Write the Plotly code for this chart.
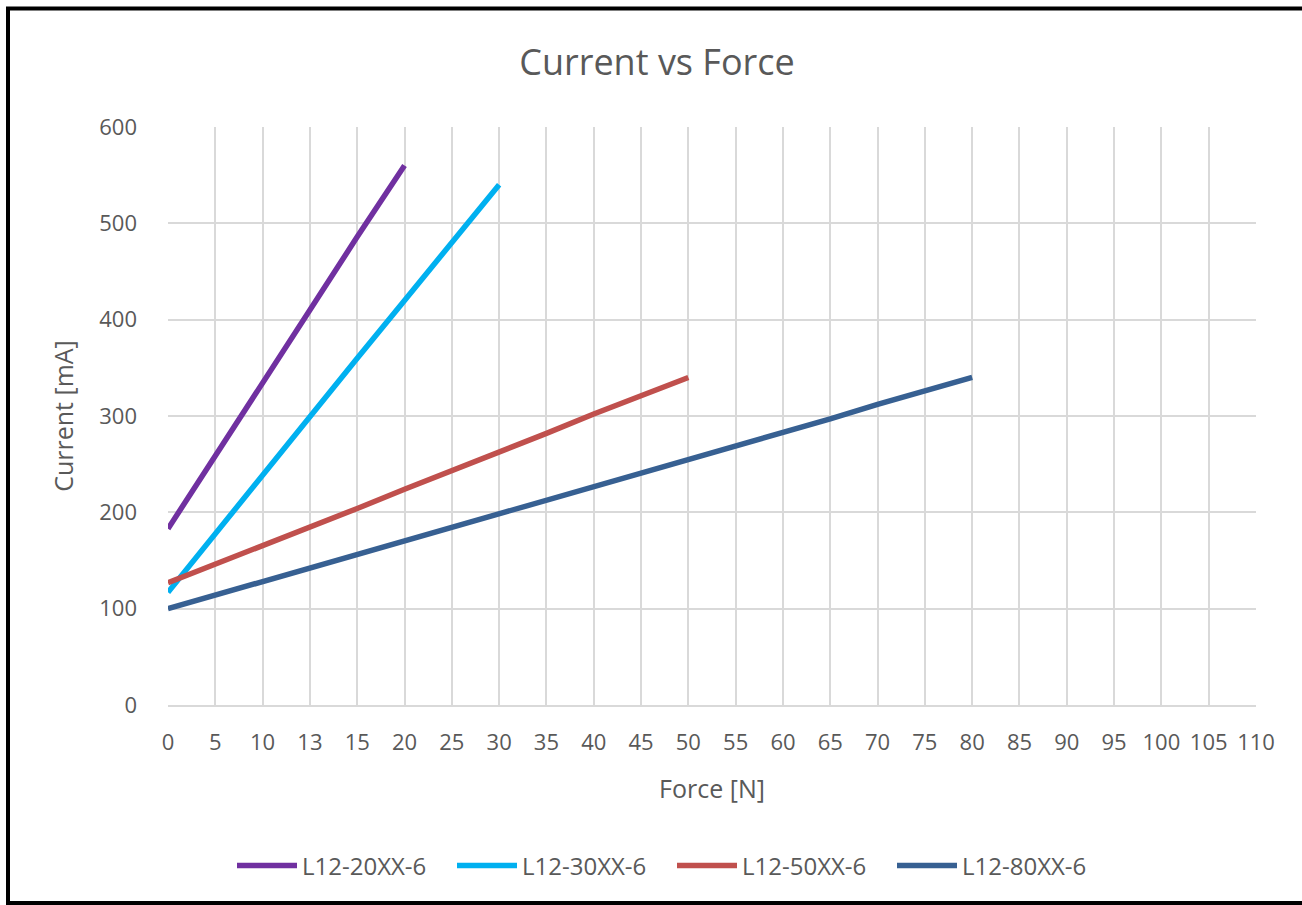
import plotly.graph_objects as go

force_labels = ["0", "5", "10", "13", "15", "20", "25", "30", "35", "40", "45", "50",
                "55", "60", "65", "70", "75", "80", "85", "90", "95", "100", "105", "110"]

series_names = ["L12-20XX-6", "L12-30XX-6", "L12-50XX-6", "L12-80XX-6"]
l12_20 = [183, 258, 334, 410, 486, 560]
l12_30 = [117, 178, 240, 300, 360, 420, 480, 540]
l12_50 = [127, 146, 166, 185, 204, 224, 243, 263, 282, 302, 321, 340]
l12_80 = [100, 114, 128, 142, 156, 170, 184, 199, 213, 227, 241, 255, 269, 283, 297, 312, 326, 340]
colors = ["#7030A0", "#00B0F0", "#C0504D", "#376092"]

fig = go.Figure()
for name, vals, col in zip(series_names, [l12_20, l12_30, l12_50, l12_80], colors):
    fig.add_trace(go.Scatter(
        x=force_labels[:len(vals)], y=vals, name=name, mode="lines",
        line=dict(color=col, width=5.5), hoverinfo="x+y+name"))

W, H = 1302, 905
L, R, T, B = 168, 1256, 127, 705
pw, ph = R - L, B - T

def px(x):
    return (x - L) / pw

def py(y):
    return (B - y) / ph

grid = "#D9D9D9"
txt = "#595959"
font = "Open Sans, Noto Sans, sans-serif"

fig.update_layout(
    width=W, height=H,
    margin=dict(l=L, r=W - R, t=T, b=H - B, autoexpand=False),
    paper_bgcolor="white", plot_bgcolor="white",
    font=dict(family=font, color=txt, size=22),
    title=dict(text="Current vs Force", x=657 / W, xanchor="center",
               y=1 - 62 / H, yanchor="middle",
               font=dict(size=36, color=txt, family=font)),
    xaxis=dict(type="category", categoryorder="array", categoryarray=force_labels,
               range=[0, len(force_labels) - 1],
               showgrid=True, gridcolor=grid, gridwidth=1.5,
               showline=True, linecolor=grid, linewidth=1.5,
               ticks="", tickfont=dict(size=22, color=txt),
               ticklabelstandoff=17,
               title=dict(text="Force [N]", font=dict(size=25, color=txt), standoff=25),
               fixedrange=True),
    yaxis=dict(range=[0, 600], dtick=100, tick0=0,
               showgrid=True, gridcolor=grid, gridwidth=1.5,
               zeroline=False, showline=False,
               ticks="", tickfont=dict(size=22, color=txt),
               ticklabelstandoff=30,
               title=dict(text="Current [mA]", font=dict(size=25, color=txt), standoff=18),
               fixedrange=True),
    legend=dict(orientation="h", x=px(232), xanchor="left",
                y=py(866), yanchor="middle",
                font=dict(size=24, color=txt), itemwidth=60,
                entrywidth=145, entrywidthmode="pixels",
                traceorder="normal", bgcolor="rgba(0,0,0,0)"),
    showlegend=True,
)

# black frame (left, top, bottom)
frame = dict(color="black", width=4)
fig.add_shape(type="line", xref="paper", yref="paper",
              x0=px(8), x1=px(8), y0=py(8), y1=py(904), line=frame)
fig.add_shape(type="line", xref="paper", yref="paper",
              x0=px(6), x1=px(1302), y0=py(8.5), y1=py(8.5), line=frame)
fig.add_shape(type="line", xref="paper", yref="paper",
              x0=px(6), x1=px(1302), y0=py(903), y1=py(903), line=frame)

fig.write_html("out.html", config={"displayModeBar": False},
               post_script="document.body.style.margin='0px';document.body.style.overflow='hidden';")
